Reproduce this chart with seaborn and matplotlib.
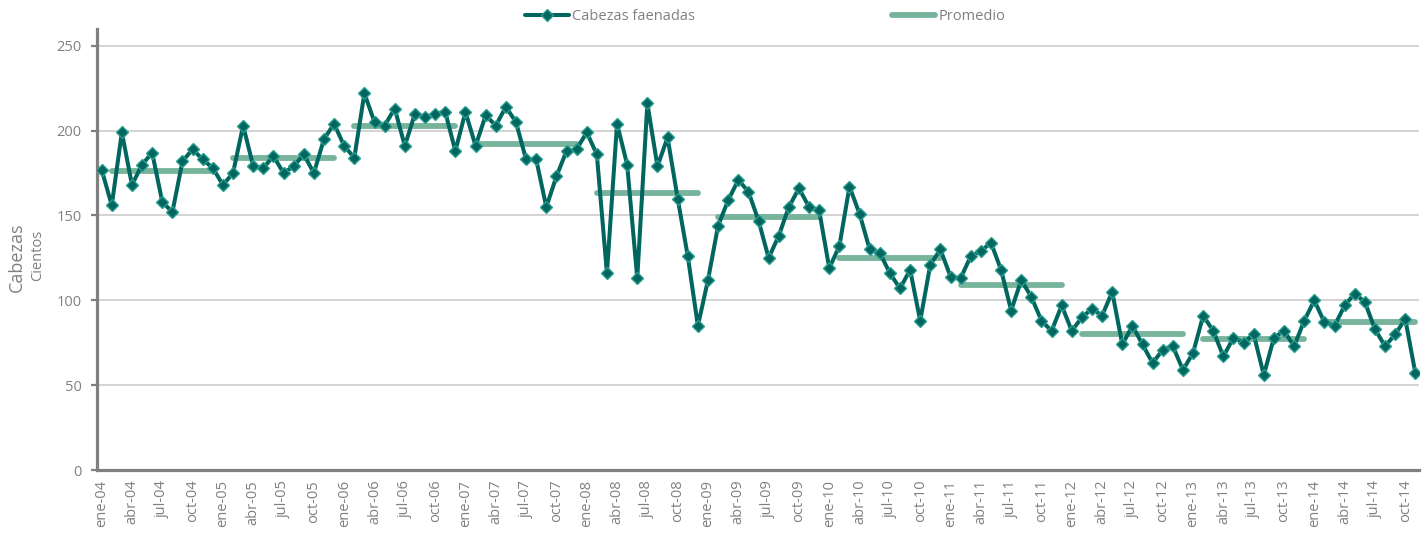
import numpy as np
import pandas as pd
import matplotlib
matplotlib.use('Agg')
import matplotlib.pyplot as plt
from matplotlib.lines import Line2D
import seaborn as sns

# Monthly slaughter (cientos de cabezas), ene-04 .. nov-14
years = ['04', '05', '06', '07', '08', '09', '10', '11', '12', '13', '14']
months = ['ene', 'feb', 'mar', 'abr', 'may', 'jun', 'jul', 'ago', 'sep', 'oct', 'nov', 'dic']

cabezas_2004 = [177, 156, 199, 168, 180, 187, 158, 152, 182, 189, 183, 178]
cabezas_2005 = [168, 175, 203, 179, 178, 185, 175, 179, 186, 175, 195, 204]
cabezas_2006 = [191, 184, 222, 205, 203, 213, 191, 210, 208, 210, 211, 188]
cabezas_2007 = [211, 191, 209, 203, 214, 205, 183, 183, 155, 173, 188, 189]
cabezas_2008 = [199, 186, 116, 204, 180, 113, 216, 179, 196, 160, 126, 85]
cabezas_2009 = [112, 144, 159, 171, 164, 147, 125, 138, 155, 166, 155, 153]
cabezas_2010 = [119, 132, 167, 151, 130, 128, 116, 107, 118, 88, 121, 130]
cabezas_2011 = [114, 113, 126, 129, 134, 118, 94, 112, 102, 88, 82, 97]
cabezas_2012 = [82, 90, 95, 91, 105, 74, 85, 74, 63, 71, 73, 59]
cabezas_2013 = [69, 91, 82, 67, 78, 75, 80, 56, 78, 82, 73, 88]
cabezas_2014 = [100, 87, 85, 97, 104, 99, 83, 73, 80, 89, 57]

# Yearly average (Promedio)
promedio = [176, 184, 203, 192, 163, 149, 125, 109, 80, 77, 87]

cabezas = (cabezas_2004 + cabezas_2005 + cabezas_2006 + cabezas_2007 + cabezas_2008
           + cabezas_2009 + cabezas_2010 + cabezas_2011 + cabezas_2012 + cabezas_2013
           + cabezas_2014)
labels = [f'{m}-{y}' for y in years for m in months][:len(cabezas)]

df = pd.DataFrame({'idx': np.arange(len(cabezas)), 'cabezas': cabezas, 'mes': labels})

# average segments, one per year (feb .. dic of each year)
rows = []
for k, (y, p) in enumerate(zip(years, promedio)):
    n_in_year = min(12, len(cabezas) - 12 * k)
    rows.append({'anio': y, 'idx': 12 * k + 1, 'prom': p})
    rows.append({'anio': y, 'idx': 12 * k + n_in_year - 1, 'prom': p})
df_prom = pd.DataFrame(rows)

line_col = '#00665f'
marker_edge = '#2a9d8d'
prom_col = '#78b49b'
grey = '#808080'

sns.set_style('white')
plt.rcParams['font.family'] = ['Open Sans', 'DejaVu Sans']

fig = plt.figure(figsize=(14.28, 5.33), dpi=100)
ax = fig.add_axes([0.068, 0.118, 0.926, 0.828])

ax.yaxis.grid(True, color='#c8c8c8', lw=1.1)
ax.set_axisbelow(True)

sns.lineplot(data=df_prom, x='idx', y='prom', units='anio', estimator=None,
             color=prom_col, lw=4.2, solid_capstyle='round', ax=ax, zorder=2)
sns.lineplot(data=df, x='idx', y='cabezas', color=line_col, lw=2.9,
             marker='D', markersize=6, markerfacecolor=line_col,
             markeredgecolor=marker_edge, markeredgewidth=1.0, ax=ax, zorder=3)

ax.set_xlim(-0.45, len(cabezas) - 0.6)
ax.set_ylim(0, 260)
ax.set_yticks(range(0, 251, 50))
ax.set_xticks(df['idx'][::3])
ax.set_xticklabels(df['mes'][::3], rotation=90)

for s in ['top', 'right']:
    ax.spines[s].set_visible(False)
for s in ['left', 'bottom']:
    ax.spines[s].set_color(grey)
    ax.spines[s].set_linewidth(2.3)

ax.tick_params(axis='y', which='major', left=True, length=4, width=1.6, color=grey,
               labelsize=10.5, labelcolor=grey, pad=7)
ax.tick_params(axis='x', which='major', bottom=False, length=0,
               labelsize=10.5, labelcolor=grey, pad=7)
ax.set_xlabel('')
ax.set_ylabel('')

fig.text(0.0115, 0.518, 'Cabezas', rotation=90, ha='center', va='center',
         fontsize=13, color=grey)
fig.text(0.026, 0.52, 'Cientos', rotation=90, ha='center', va='center',
         fontsize=10.5, color=grey)

handles = [
    Line2D([], [], color=line_col, lw=2.9, marker='D', markersize=6,
           markerfacecolor=line_col, markeredgecolor=marker_edge),
    Line2D([], [], color=prom_col, lw=4.2, solid_capstyle='round'),
]
fig.legend(handles, ['Cabezas faenadas', 'Promedio'], loc='center',
           bbox_to_anchor=(765 / 1428, 0.969), ncol=2, frameon=False,
           handlelength=3.0, handletextpad=0.2, columnspacing=13.5,
           prop={'size': 10.5}, labelcolor=grey)

fig.savefig('out.png', dpi=100)
